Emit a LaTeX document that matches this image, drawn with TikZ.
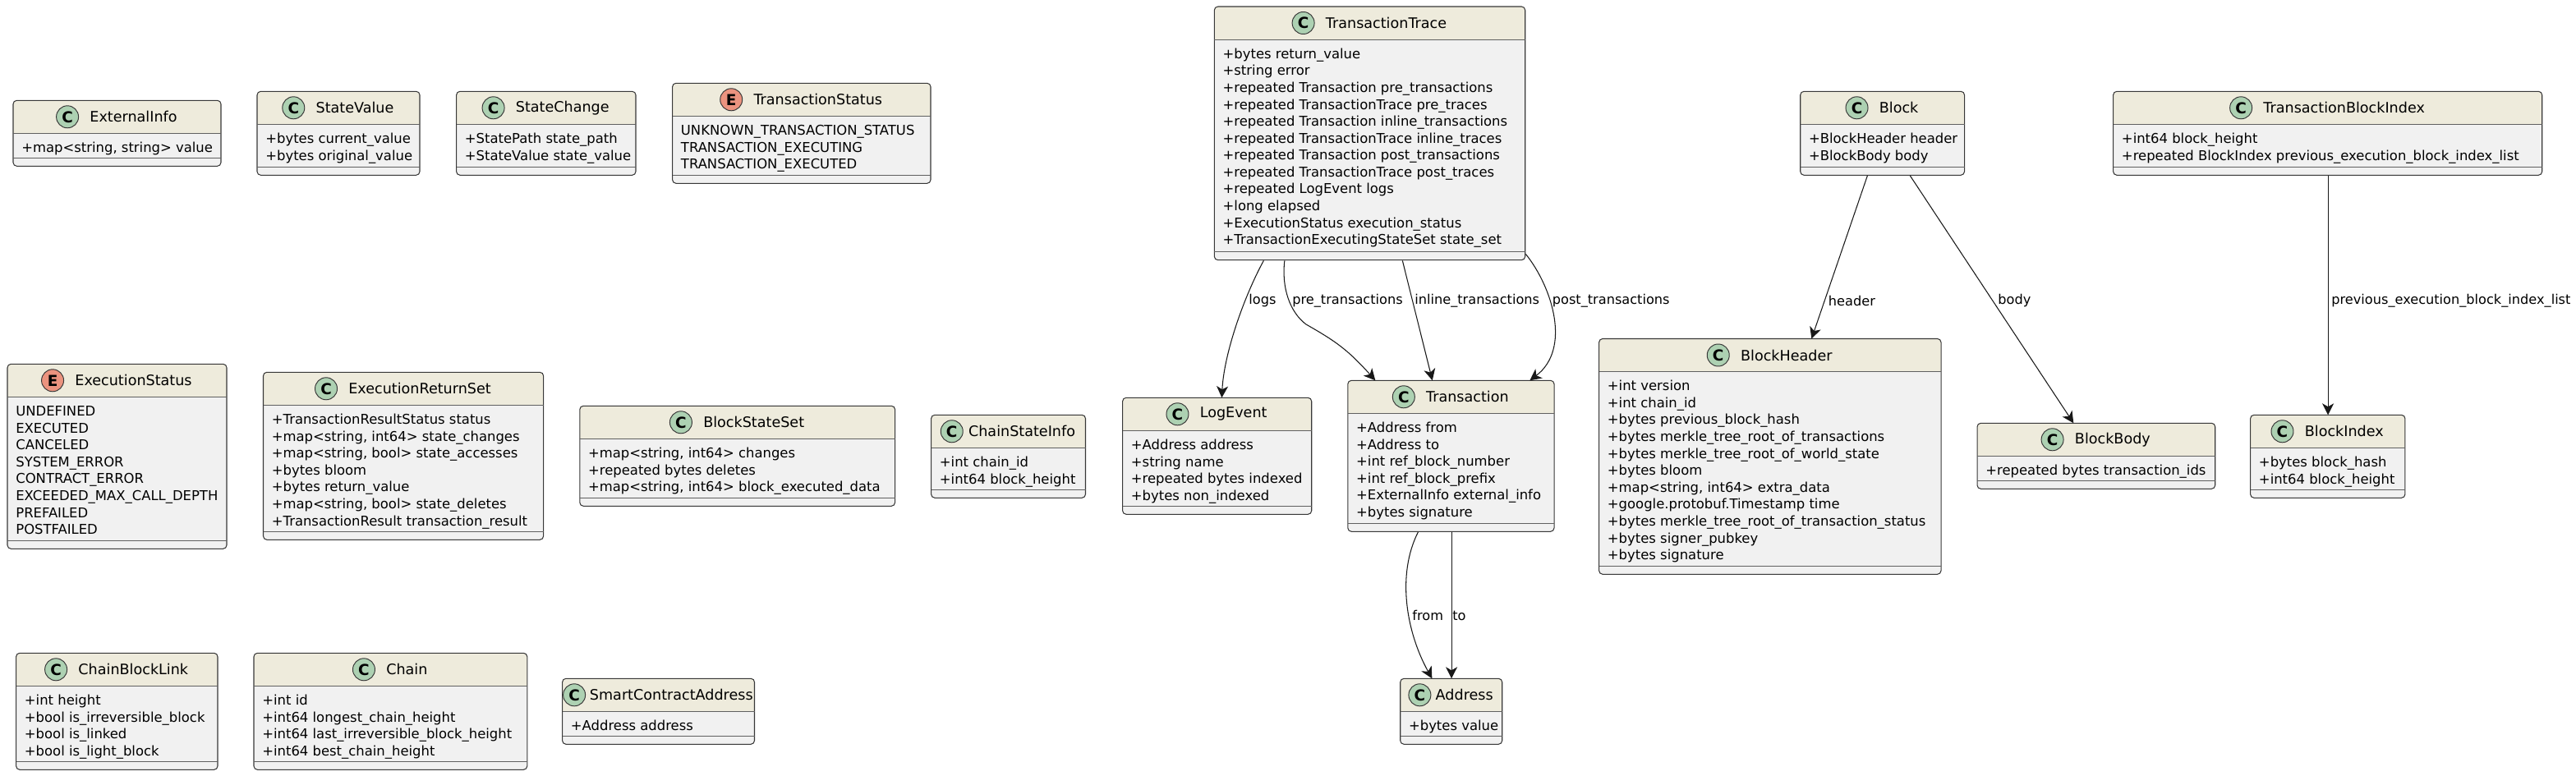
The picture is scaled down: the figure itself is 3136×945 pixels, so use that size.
\documentclass[tikz,border=0pt]{standalone}
\usepackage{fontspec}
\setmainfont{DejaVu Sans}
\usetikzlibrary{positioning,arrows.meta}
\definecolor{cHead} {RGB}{238,235,220}
\definecolor{cBody} {RGB}{241,241,241}
\definecolor{cEdge} {RGB}{ 56, 56, 56}
\definecolor{cRule} {RGB}{ 96, 96, 96}
\definecolor{cClass}{RGB}{173,209,178}
\definecolor{cEnum} {RGB}{235,147,127}
\definecolor{cWire} {RGB}{ 24, 24, 24}

%% one pixel of the sheet, and the gap between circle and title
\def\px{0.02cm}
\def\mgap{13}

\begin{document}
\begin{tikzpicture}[x=0.02cm, y=-0.02cm]

%% -- shared styles ----------------------------------------------------------
\tikzset{
  clsbody/.style={
    rectangle, anchor=north west, inner sep=0pt, fill=cBody, rounded corners=2.5pt
  },
  clsedge/.style={draw=cEdge, rounded corners=2.5pt, line width=0.6pt},
  clsrule/.style={draw=cRule, line width=0.55pt},
  clstitle/.style={font=\fontsize{10}{11}\selectfont, inner sep=0pt, text=black},
  clsrows/.style={
    font=\fontsize{9.35}{11.72}\selectfont, align=left, anchor=north west,
    inner sep=0pt, text=black
  },
  clsmark/.style={
    circle, minimum size=27*\px, inner sep=0pt, draw=cEdge, line width=0.55pt,
    fill=#1, font=\fontsize{10.5}{11}\selectfont\bfseries, text=black
  },
  arr/.style={-{Stealth[length=14*\px, width=14*\px, inset=4*\px]}, line width=0.6pt, cWire},
  lbl/.style={font=\fontsize{9.2}{10}\selectfont, inner sep=0pt, anchor=west, text=black},
}

%% name, left, right, top, bottom, circle colour, letter, title, rows
\newcommand{\umlbox}[9]{%
  \node[clsbody, minimum width={(#3-#2)*\px}, minimum height={(#5-#4)*\px}] (#1) at (#2,#4) {};
  \fill[cHead, rounded corners=2.5pt] (#2,#4+40) -- (#2,#4) -- (#3,#4)
    [sharp corners] -- (#3,#4+40) -- cycle;
  \draw[clsedge] (#2,#4) rectangle (#3,#5);
  \draw[clsrule] (#2,#4+40) -- (#3,#4+40);
  \draw[clsrule] (#2,#5-10) -- (#3,#5-10);
  \node[clstitle] (#1T) at ({(#2+#3)/2+(27+\mgap)/2},#4+20) {#8};
  \node[clsmark=#6, left=\mgap*\px of #1T] (#1M) {#7};
  \node[clsrows] (#1R) at (#2+10,#4+48.5) {\strut #9};
}

%% -- row 1 : loose boxes ----------------------------------------------------
\umlbox{ExternalInfo}{16}{269}{122.3}{202.3}{cClass}{C}{ExternalInfo}
  {+map<string, string> value}
\umlbox{StateValue}{313}{511}{111.3}{213.3}{cClass}{C}{StateValue}
  {+bytes current\_value\\+bytes original\_value}
\umlbox{StateChange}{555.6}{774}{111.3}{213.3}{cClass}{C}{StateChange}
  {+StatePath state\_path\\+StateValue state\_value}
\umlbox{TransactionStatus}{818.6}{1133}{101.3}{223.3}{cEnum}{E}{TransactionStatus}
  {UNKNOWN\_TRANSACTION\_STATUS\\TRANSACTION\_EXECUTING\\TRANSACTION\_EXECUTED}

%% -- row 2 : loose boxes ----------------------------------------------------
\umlbox{ExecutionStatus}{9}{276}{443.3}{668.3}{cEnum}{E}{ExecutionStatus}
  {UNDEFINED\\EXECUTED\\CANCELED\\SYSTEM\_ERROR\\CONTRACT\_ERROR\\EXCEEDED\_MAX\_CALL\_DEPTH\\PREFAILED\\POSTFAILED}
\umlbox{ExecutionReturnSet}{320.5}{661.6}{453.3}{657.3}{cClass}{C}{ExecutionReturnSet}
  {+TransactionResultStatus status\\+map<string, int64> state\_changes\\+map<string, bool> state\_accesses\\+bytes bloom\\+bytes return\_value\\+map<string, bool> state\_deletes\\+TransactionResult transaction\_result}
\umlbox{BlockStateSet}{705.8}{1089.6}{494.3}{616.3}{cClass}{C}{BlockStateSet}
  {+map<string, int64> changes\\+repeated bytes deletes\\+map<string, int64> block\_executed\_data}
\def\mgap{6}
\umlbox{ChainStateInfo}{1133.6}{1321.5}{505.3}{606.3}{cClass}{C}{ChainStateInfo}
  {+int chain\_id\\+int64 block\_height}
\def\mgap{13}

%% -- row 3 : loose boxes ----------------------------------------------------
\umlbox{ChainBlockLink}{19.6}{265}{795.3}{937.3}{cClass}{C}{ChainBlockLink}
  {+int height\\+bool is\_irreversible\_block\\+bool is\_linked\\+bool is\_light\_block}
\umlbox{Chain}{309}{641.8}{795.3}{937.3}{cClass}{C}{Chain}
  {+int id\\+int64 longest\_chain\_height\\+int64 last\_irreversible\_block\_height\\+int64 best\_chain\_height}
\def\mgap{4.5}
\umlbox{SmartContractAddress}{684.6}{918.5}{826.3}{906.3}{cClass}{C}{SmartContractAddress}
  {+Address address}
\def\mgap{13}

%% -- transaction group ------------------------------------------------------
\umlbox{TransactionTrace}{1478.3}{1856.7}{8}{316.7}{cClass}{C}{TransactionTrace}
  {+bytes return\_value\\+string error\\+repeated Transaction pre\_transactions\\+repeated TransactionTrace pre\_traces\\+repeated Transaction inline\_transactions\\+repeated TransactionTrace inline\_traces\\+repeated Transaction post\_transactions\\+repeated TransactionTrace post\_traces\\+repeated LogEvent logs\\+long elapsed\\+ExecutionStatus execution\_status\\+TransactionExecutingStateSet state\_set}
\umlbox{LogEvent}{1366.6}{1596.7}{484.3}{626.3}{cClass}{C}{LogEvent}
  {+Address address\\+string name\\+repeated bytes indexed\\+bytes non\_indexed}
\umlbox{Transaction}{1640.8}{1892}{463.3}{647.3}{cClass}{C}{Transaction}
  {+Address from\\+Address to\\+int ref\_block\_number\\+int ref\_block\_prefix\\+ExternalInfo external\_info\\+bytes signature}
\def\mgap{5}
\umlbox{Address}{1704.7}{1828.7}{826.3}{906.3}{cClass}{C}{Address}
  {+bytes value}
\def\mgap{13}

\draw[arr] ([xshift=-129.5*\px]TransactionTrace.south)
  .. controls (1515,360) and (1490,430) .. ([xshift=5.4*\px]LogEvent.north);
\draw[arr] ([xshift=-104*\px]TransactionTrace.south)
  .. controls (1560,350) and (1570,380) .. (1590,395)
  .. controls (1625,415) and (1640,425) .. ([xshift=-92.4*\px]Transaction.north);
\draw[arr] ([xshift=39.5*\px]TransactionTrace.south) -- ([xshift=-23*\px]Transaction.north);
\draw[arr] ([yshift=8*\px]TransactionTrace.south east)
  .. controls (1890,350) and (1913,425) .. ([xshift=95.6*\px]Transaction.north);
\draw[arr] ([xshift=-40.4*\px]Transaction.south)
  .. controls (1700,700) and (1712,770) .. ([xshift=-23.7*\px]Address.north);
\draw[arr] (Transaction.south -| Address.north) -- (Address.north);

\node[lbl] (lblLogs)   at (1520,366.5) {logs};
\node[lbl] (lblPre)    at (1573,366.5) {pre\_transactions};
\node[lbl] (lblInline) at (1722,366.5) {inline\_transactions};
\node[lbl] (lblPost)   at (1889.5,366.5) {post\_transactions};
\node[lbl] (lblFrom)   at (1719,749.5) {from};
\node[lbl] (lblTo)     at (1768,749.5) {to};

%% -- block group ------------------------------------------------------------
\umlbox{Block}{2191.7}{2391.5}{111.3}{213.3}{cClass}{C}{Block}
  {+BlockHeader header\\+BlockBody body}
\umlbox{BlockHeader}{1946.6}{2363}{412.5}{699.3}{cClass}{C}{BlockHeader}
  {+int version\\+int chain\_id\\+bytes previous\_block\_hash\\+bytes merkle\_tree\_root\_of\_transactions\\+bytes merkle\_tree\_root\_of\_world\_state\\+bytes bloom\\+map<string, int64> extra\_data\\+google.protobuf.Timestamp time\\+bytes merkle\_tree\_root\_of\_transaction\_status\\+bytes signer\_pubkey\\+bytes signature}
\umlbox{BlockBody}{2407}{2696.7}{515.3}{595.3}{cClass}{C}{BlockBody}
  {+repeated bytes transaction\_ids}
\umlbox{TransactionBlockIndex}{2572.6}{3094.7}{111.3}{213.3}{cClass}{C}{TransactionBlockIndex}
  {+int64 block\_height\\+repeated BlockIndex previous\_execution\_block\_index\_list}
\umlbox{BlockIndex}{2739.6}{2927.9}{505.3}{606.3}{cClass}{C}{BlockIndex}
  {+bytes block\_hash\\+int64 block\_height}

\draw[arr] ([xshift=-18.6*\px]Block.south) -- ([xshift=50.2*\px]BlockHeader.north);
\draw[arr] ([xshift=33.4*\px]Block.south) -- ([xshift=-27.9*\px]BlockBody.north);
\draw[arr] (TransactionBlockIndex.south -| BlockIndex.north) -- (BlockIndex.north);

\node[lbl] (lblHeader) at (2225.6,366.5) {header};
\node[lbl] (lblBody)   at (2432,366.5) {body};
\node[lbl] (lblPrev)   at (2838,366.5) {previous\_execution\_block\_index\_list};

\useasboundingbox (0,0) rectangle (3136,945);
\end{tikzpicture}
\end{document}
